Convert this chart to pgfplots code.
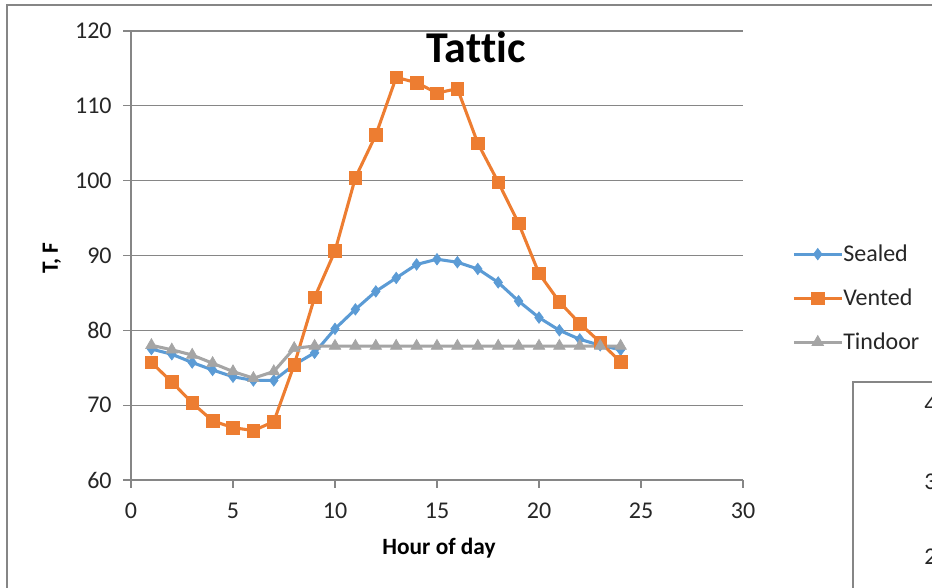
\documentclass[border=0pt]{standalone}
\usepackage{pgfplots}
\pgfplotsset{compat=1.18}
\usepackage{fontspec}
\setmainfont{Carlito}[Ligatures=NoCommon]
\definecolor{sealed}{HTML}{5B9BD5}
\definecolor{vented}{HTML}{ED7D31}
\definecolor{tindoor}{HTML}{A5A5A5}
\definecolor{axgray}{HTML}{868686}
\begin{document}
\begin{tikzpicture}
\path[use as bounding box] (0,0) rectangle (699pt,441pt);
\clip (0,0) rectangle (699pt,441pt);
% outer chart border
\draw[axgray, line width=1.1pt] (5.25pt,-20pt) -- (5.25pt,437.25pt) -- (720pt,437.25pt);
% partial neighbouring chart
\draw[axgray, line width=0.8pt] (639.75pt,-20pt) -- (639.75pt,154.5pt) -- (720pt,154.5pt);
\node[anchor=west, inner sep=0pt, font=\fontsize{18}{21}\selectfont, text=black!85] at (693pt,137.25pt) {4};
\node[anchor=west, inner sep=0pt, font=\fontsize{18}{21}\selectfont, text=black!85] at (693pt,79.5pt) {3};
\node[anchor=west, inner sep=0pt, font=\fontsize{18}{21}\selectfont, text=black!85] at (693pt,23.25pt) {2};
\begin{axis}[
  at={(98.25pt,81pt)}, anchor=south west,
  scale only axis, width=459pt, height=336.75pt,
  xmin=0, xmax=30, ymin=60, ymax=120,
  xtick={0,5,...,30}, ytick={60,70,...,120},
  axis lines*=left, axis line style={-, draw=axgray, line width=0.9pt},
  tick align=outside, major tick length=6pt,
  tick style={draw=axgray, line width=0.9pt},
  ymajorgrids, grid style={draw=axgray, line width=0.9pt},
  /pgf/number format/assume math mode=true,
  ticklabel style={font=\fontsize{18}{21}\selectfont, text=black!85},
  yticklabel style={xshift=-5pt},
  xticklabel style={yshift=-8pt},
  legend style={draw=none, fill=none, at={(1.080,0.405)}, anchor=west,
    font=\fontsize{18}{21}\selectfont, row sep=19pt, inner sep=0pt,
    nodes={inner sep=0pt, text=black!85}},
  legend cell align=left,
  legend image code/.code={\draw[#1, mark repeat=2, mark phase=2] plot coordinates {(0pt,0pt) (18pt,0pt) (36pt,0pt)};},
  /tikz/every even column/.append style={column sep=4pt},
]
\addplot[sealed, line width=2.3pt, mark=diamond*, mark size=4.3pt, mark options={solid, fill=sealed, line width=0.5pt}] coordinates {
(1,77.5) (2,76.8) (3,75.7) (4,74.7) (5,73.8) (6,73.3) (7,73.3) (8,75.4) (9,77.0) (10,80.2) (11,82.8) (12,85.2) (13,87.0) (14,88.8) (15,89.5) (16,89.1) (17,88.2) (18,86.4) (19,83.9) (20,81.7) (21,80.0) (22,78.8) (23,78.0) (24,77.4)};
\addlegendentry{Sealed}
\addplot[vented, line width=2.3pt, mark=square*, mark size=4.7pt, mark options={solid, fill=vented, line width=0.5pt}] coordinates {
(1,75.7) (2,73.1) (3,70.3) (4,67.9) (5,67.0) (6,66.6) (7,67.8) (8,75.4) (9,84.4) (10,90.6) (11,100.4) (12,106.1) (13,113.8) (14,113.1) (15,111.7) (16,112.3) (17,105.0) (18,99.8) (19,94.3) (20,87.6) (21,83.8) (22,80.9) (23,78.4) (24,75.8)};
\addlegendentry{Vented}
\addplot[tindoor, line width=2.3pt, mark=triangle*, mark size=5pt, mark options={solid, fill=tindoor, line width=0.5pt}] coordinates {
(1,78.0) (2,77.4) (3,76.7) (4,75.6) (5,74.5) (6,73.6) (7,74.5) (8,77.6) (9,77.9) (10,77.9) (11,77.9) (12,77.9) (13,77.9) (14,77.9) (15,77.9) (16,77.9) (17,77.9) (18,77.9) (19,77.9) (20,77.9) (21,77.9) (22,77.9) (23,77.9) (24,77.9)};
\addlegendentry{Tindoor}
\end{axis}
\node[anchor=base, inner sep=0pt, font=\fontsize{33}{38}\bfseries\selectfont] at (357pt,393.75pt) {Tattic};
\node[rotate=90, inner sep=0pt, font=\fontsize{17.5}{20}\bfseries\selectfont] at (39pt,247.5pt) {T, F};
\node[inner sep=0pt, font=\fontsize{17.5}{20}\bfseries\selectfont] at (329.25pt,30pt) {Hour of day};
\end{tikzpicture}
\end{document}
